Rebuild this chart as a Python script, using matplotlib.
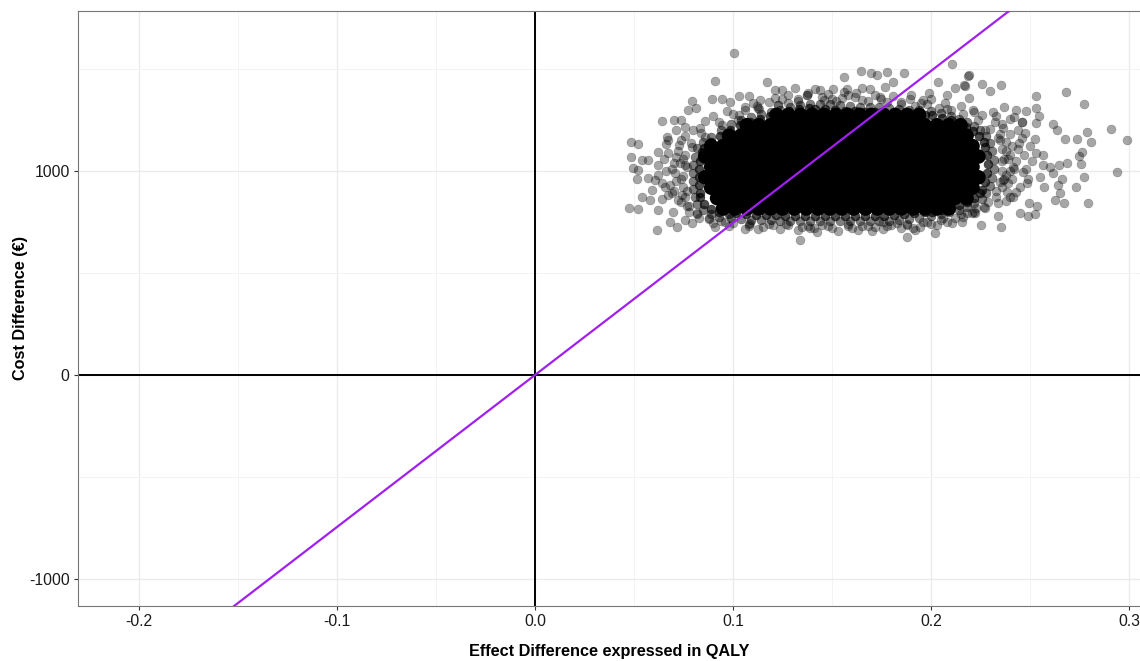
import matplotlib
matplotlib.use("Agg")
import matplotlib.pyplot as plt
from matplotlib.ticker import MultipleLocator

# willingness-to-pay threshold (EUR per QALY)
wtp = 7450

x_ticks = [-0.2, -0.1, 0.0, 0.1, 0.2, 0.3]
y_ticks = [-1000, 0, 1000]

fringe = [
    (0.219, 1471), (0.217, 1418), (0.226, 1426), (0.230, 1394), (0.2355, 1420), (0.253, 1368),
    (0.268, 1386), (0.2774, 1327), (0.219, 1356), (0.2367, 1315), (0.2428, 1299), (0.2478, 1294),
    (0.253, 1307), (0.2547, 1270), (0.2618, 1230), (0.2638, 1201), (0.2678, 1157), (0.2736, 1157),
    (0.279, 1191), (0.2811, 1144), (0.291, 1207), (0.2988, 1150), (0.2764, 1095), (0.2749, 1074),
    (0.2758, 1034), (0.2685, 1038), (0.2646, 1028), (0.2938, 993), (0.2773, 972), (0.2731, 923),
    (0.266, 959), (0.264, 931), (0.2652, 891), (0.2672, 845), (0.2626, 858), (0.2794, 845),
    (0.2572, 923), (0.2534, 830), (0.2525, 788), (0.2488, 779), (0.245, 793), (0.2497, 842),
    (0.2352, 727), (0.2251, 735), (0.2337, 779), (0.218, 793), (0.2567, 1029), (0.2601, 1021),
    (0.2618, 992), (0.255, 972), (0.253, 1087), (0.2567, 1078), (0.2525, 1155), (0.2476, 1188),
    (0.2461, 1242), (0.2421, 1263), (0.2529, 1234), (0.2446, 1136), (0.2399, 1078), (0.2416, 1021),
    (0.2466, 997), (0.2483, 940), (0.2416, 874), (0.2382, 899), (0.234, 842), (0.2273, 817),
    (0.2222, 793), (0.2365, 956), (0.2315, 1291), (0.2273, 1201), (0.2323, 1242), (0.2365, 1209),
    (0.2348, 1152), (0.2214, 1299), (0.2256, 1274),
    (0.1007, 1577), (0.0907, 1440), (0.117, 1436), (0.0795, 1343), (0.0892, 1351), (0.0943, 1351),
    (0.0985, 1340), (0.1032, 1368), (0.1082, 1368), (0.0774, 1299), (0.0813, 1307), (0.064, 1245),
    (0.0702, 1250), (0.0737, 1250), (0.0758, 1217), (0.0712, 1201), (0.0833, 1209), (0.0665, 1168),
    (0.0673, 1152), (0.0736, 1152), (0.0483, 1144), (0.0522, 1132), (0.062, 1095), (0.0673, 1087),
    (0.0483, 1067), (0.0539, 1054), (0.0572, 1054), (0.0623, 1029), (0.0497, 1013), (0.0522, 1005),
    (0.0513, 959), (0.0572, 964), (0.0606, 956), (0.0539, 874), (0.0581, 858), (0.064, 861),
    (0.0476, 817), (0.0522, 812), (0.0623, 809), (0.0699, 800), (0.0682, 751), (0.0716, 727),
    (0.0618, 711), (0.0758, 760), (0.0795, 743), (0.0909, 727), (0.1086, 743), (0.1125, 714),
    (0.1338, 662), (0.0657, 923), (0.069, 891), (0.0741, 882), (0.0589, 907), (0.0732, 1038),
    (0.0766, 1021), (0.0707, 989), (0.0791, 1119), (0.0859, 1168), (0.1027, 1250), (0.0943, 1226),
    (0.1212, 1397), (0.1246, 1397), (0.1313, 1405), (0.1372, 1373), (0.1136, 1348), (0.1061, 1315),
    (0.1128, 1307), (0.1229, 1324), (0.1279, 1332),
    (0.156, 1459), (0.1646, 1492), (0.1697, 1478), (0.1729, 1472), (0.1776, 1484), (0.1862, 1482),
    (0.2108, 1525), (0.2189, 1467), (0.2034, 1435), (0.2168, 1420), (0.2121, 1405), (0.2079, 1373),
    (0.1991, 1381), (0.181, 1438), (0.1768, 1413), (0.1692, 1400), (0.165, 1405), (0.1574, 1402),
    (0.1507, 1402), (0.1439, 1397), (0.1414, 1402), (0.1372, 1373), (0.1498, 1351), (0.1616, 1364),
    (0.1742, 1364), (0.1894, 1351), (0.1961, 1348), (0.1877, 678), (0.1911, 719), (0.202, 695),
    (0.2029, 735), (0.2104, 743), (0.2155, 751), (0.2205, 793), (0.16, 719), (0.1423, 703),
    (0.1389, 719), (0.1759, 751), (0.1827, 746), (0.1944, 727),
    (0.238, 1100), (0.240, 1180), (0.236, 1050), (0.243, 1050), (0.238, 980), (0.245, 920),
    (0.240, 870), (0.236, 1230), (0.244, 1200), (0.250, 1120), (0.248, 1010), (0.239, 940),
    (0.072, 1100), (0.075, 1060), (0.070, 1040), (0.074, 960), (0.068, 930), (0.077, 900),
    (0.072, 860), (0.078, 830), (0.066, 1000), (0.062, 980),
    (0.118, 1340), (0.125, 1355), (0.133, 1345), (0.146, 1350), (0.152, 1345), (0.158, 1370),
    (0.168, 1345), (0.178, 1340), (0.185, 1330), (0.192, 1320), (0.198, 1330), (0.204, 1310),
    (0.210, 1300), (0.112, 1320), (0.106, 1300), (0.100, 1280),
    (0.100, 745), (0.108, 730), (0.120, 735), (0.127, 740), (0.135, 725), (0.145, 735),
    (0.150, 720), (0.158, 740), (0.165, 730), (0.172, 725), (0.180, 735), (0.188, 740),
    (0.196, 750), (0.205, 760), (0.212, 770), (0.094, 755), (0.088, 770), (0.082, 790),
    # just outside the dense edge
    (0.079, 1135), (0.084, 1185), (0.093, 1240), (0.103, 1275), (0.113, 1305), (0.123, 1325),
    (0.133, 1352), (0.145, 1362), (0.155, 1358), (0.165, 1350), (0.175, 1352), (0.185, 1340),
    (0.195, 1335), (0.208, 1305), (0.216, 1280), (0.224, 1250), (0.230, 1205), (0.234, 1160),
    (0.236, 1110), (0.237, 1060), (0.236, 1000), (0.235, 945), (0.233, 900), (0.229, 850),
    (0.223, 820), (0.215, 790), (0.206, 770), (0.198, 750), (0.188, 735), (0.178, 730),
    (0.168, 728), (0.158, 732), (0.148, 728), (0.138, 730), (0.128, 733), (0.118, 738),
    (0.108, 740), (0.096, 748), (0.088, 765), (0.082, 795), (0.077, 830), (0.076, 870),
    (0.075, 920), (0.075, 975), (0.076, 1030), (0.076, 1080),
    (0.235, 1180), (0.238, 1140), (0.241, 1120), (0.239, 1060), (0.242, 1010), (0.240, 1000),
    (0.237, 960), (0.241, 960), (0.236, 920), (0.243, 895), (0.233, 870), (0.238, 855),
    (0.246, 1160), (0.247, 1080), (0.244, 1110), (0.249, 960), (0.251, 1050), (0.246, 1240),
    (0.240, 1255), (0.233, 1270),
    (0.110, 1335), (0.121, 1360), (0.128, 1370), (0.138, 1380), (0.148, 1375), (0.156, 1385),
    (0.162, 1380), (0.172, 1372), (0.181, 1365), (0.190, 1370), (0.200, 1355), (0.207, 1335),
    (0.215, 1320), (0.222, 1290), (0.097, 1295), (0.090, 1270), (0.086, 1245),
    (0.090, 745), (0.098, 730), (0.106, 718), (0.115, 725), (0.124, 718), (0.133, 712),
    (0.141, 722), (0.153, 708), (0.163, 712), (0.170, 705), (0.176, 715), (0.185, 722),
    (0.192, 712), (0.200, 740), (0.208, 752), (0.216, 772), (0.222, 800), (0.227, 825),
    (0.083, 770), (0.078, 800),
    (0.073, 1125), (0.071, 1070), (0.069, 1010), (0.071, 950), (0.070, 900), (0.074, 850),
    (0.076, 1170), (0.080, 1200), (0.066, 1130), (0.065, 1060), (0.064, 940), (0.067, 880),
]

# outer edge of the dense cloud, where replicates pile up 2-3 deep
edge_outer = [
    (0.082, 1113), (0.085, 1142), (0.089, 1167), (0.094, 1201), (0.099, 1230), (0.104, 1250),
    (0.109, 1265), (0.114, 1279), (0.119, 1289), (0.124, 1299), (0.129, 1314), (0.134, 1324),
    (0.139, 1328), (0.144, 1328), (0.149, 1328), (0.154, 1324), (0.159, 1319), (0.164, 1314),
    (0.169, 1314), (0.174, 1314), (0.179, 1309), (0.184, 1304), (0.189, 1299), (0.194, 1299),
    (0.200, 1294), (0.205, 1284), (0.210, 1270), (0.214, 1255), (0.218, 1240), (0.222, 1221),
    (0.225, 1201), (0.228, 1172), (0.230, 1137), (0.231, 1098), (0.232, 1054), (0.232, 1010),
    (0.231, 966), (0.230, 926), (0.228, 892), (0.226, 863), (0.222, 843), (0.218, 824),
    (0.214, 809), (0.209, 799), (0.205, 789), (0.200, 779), (0.194, 770), (0.189, 765),
    (0.184, 760), (0.179, 755), (0.174, 755), (0.169, 755), (0.164, 755), (0.159, 755),
    (0.154, 755), (0.149, 755), (0.144, 755), (0.139, 755), (0.134, 755), (0.129, 755),
    (0.124, 755), (0.119, 760), (0.114, 760), (0.109, 760), (0.104, 765), (0.099, 770),
    (0.093, 774), (0.089, 789), (0.085, 809), (0.082, 838), (0.081, 873), (0.080, 912),
    (0.080, 951), (0.080, 990), (0.080, 1029), (0.081, 1069),
]

# one step further in, piled up 4-5 deep
edge_inner = [
    (0.0855, 1113), (0.089, 1140), (0.0935, 1169), (0.0985, 1200), (0.1035, 1225), (0.1085, 1242),
    (0.1135, 1257), (0.1185, 1269), (0.1235, 1279), (0.1285, 1292), (0.1335, 1304), (0.1385, 1311),
    (0.1415, 1303), (0.1465, 1303), (0.1515, 1301), (0.1565, 1296), (0.1615, 1292), (0.1665, 1289),
    (0.1715, 1289), (0.1765, 1287), (0.1815, 1282), (0.1865, 1277), (0.1915, 1274), (0.197, 1272),
    (0.2005, 1274), (0.2055, 1262), (0.210, 1248), (0.214, 1233), (0.2175, 1216), (0.2215, 1196),
    (0.2245, 1172), (0.227, 1140), (0.2275, 1118), (0.2285, 1076), (0.229, 1032), (0.2285, 988),
    (0.2275, 946), (0.226, 909), (0.225, 892), (0.222, 868), (0.218, 848), (0.214, 831),
    (0.2095, 819), (0.205, 809), (0.2005, 799), (0.197, 800), (0.1915, 793), (0.1865, 788),
    (0.1815, 783), (0.1765, 780), (0.1715, 780), (0.1665, 780), (0.1615, 780), (0.1565, 780),
    (0.1515, 780), (0.1465, 780), (0.1415, 780), (0.1365, 780), (0.1315, 780), (0.1265, 780),
    (0.1215, 783), (0.1165, 785), (0.1115, 785), (0.1065, 788), (0.1015, 793), (0.098, 787),
    (0.093, 797), (0.089, 814), (0.0855, 838), (0.0835, 870), (0.0835, 893), (0.083, 932),
    (0.083, 971), (0.083, 1010), (0.0835, 1049), (0.0845, 1091),
]

# solid centre of the cloud (thousands of overlapping replicates), by cost row
core_y = [1275, 1224, 1173, 1122, 1071, 1020, 969, 918, 867, 816]
core_x = [
    [0.122, 0.128, 0.134, 0.140, 0.146, 0.152, 0.158, 0.164, 0.170, 0.176, 0.182, 0.188, 0.194],
    [0.107, 0.113, 0.119, 0.125, 0.131, 0.137, 0.143, 0.149, 0.155, 0.161, 0.167, 0.173,
     0.179, 0.185, 0.191, 0.197, 0.203, 0.209, 0.215],
    [0.098, 0.104, 0.110, 0.116, 0.122, 0.128, 0.134, 0.140, 0.146, 0.152, 0.158, 0.164,
     0.170, 0.176, 0.182, 0.188, 0.194, 0.200, 0.206, 0.212, 0.218],
    [0.089, 0.095, 0.101, 0.107, 0.113, 0.119, 0.125, 0.131, 0.137, 0.143, 0.149, 0.155,
     0.161, 0.167, 0.173, 0.179, 0.185, 0.191, 0.197, 0.203, 0.209, 0.215, 0.221],
    [0.086, 0.092, 0.098, 0.104, 0.110, 0.116, 0.122, 0.128, 0.134, 0.140, 0.146, 0.152,
     0.158, 0.164, 0.170, 0.176, 0.182, 0.188, 0.194, 0.200, 0.206, 0.212, 0.218, 0.224],
    [0.089, 0.095, 0.101, 0.107, 0.113, 0.119, 0.125, 0.131, 0.137, 0.143, 0.149, 0.155,
     0.161, 0.167, 0.173, 0.179, 0.185, 0.191, 0.197, 0.203, 0.209, 0.215, 0.221],
    [0.086, 0.092, 0.098, 0.104, 0.110, 0.116, 0.122, 0.128, 0.134, 0.140, 0.146, 0.152,
     0.158, 0.164, 0.170, 0.176, 0.182, 0.188, 0.194, 0.200, 0.206, 0.212, 0.218, 0.224],
    [0.089, 0.095, 0.101, 0.107, 0.113, 0.119, 0.125, 0.131, 0.137, 0.143, 0.149, 0.155,
     0.161, 0.167, 0.173, 0.179, 0.185, 0.191, 0.197, 0.203, 0.209, 0.215, 0.221],
    [0.092, 0.098, 0.104, 0.110, 0.116, 0.122, 0.128, 0.134, 0.140, 0.146, 0.152, 0.158,
     0.164, 0.170, 0.176, 0.182, 0.188, 0.194, 0.200, 0.206, 0.212, 0.218],
    [0.095, 0.101, 0.107, 0.113, 0.119, 0.125, 0.131, 0.137, 0.143, 0.149, 0.155, 0.161,
     0.167, 0.173, 0.179, 0.185, 0.191, 0.197, 0.203, 0.209],
]

plt.rcParams["font.family"] = ["Liberation Sans", "DejaVu Sans"]

fig = plt.figure(figsize=(11.4, 6.61), dpi=100)
ax = fig.add_axes([78 / 1140, 55 / 661, 1062 / 1140, 595 / 661])

ax.set_xlim(-0.2308, 0.3056)
ax.set_ylim(-1132, 1784)

# grid like theme_bw
ax.set_xticks(x_ticks)
ax.set_xticklabels([f"{t:.1f}" for t in x_ticks])
ax.set_yticks(y_ticks)
ax.set_yticklabels([str(t) for t in y_ticks])
ax.xaxis.set_minor_locator(MultipleLocator(0.05))
ax.yaxis.set_minor_locator(MultipleLocator(500))
ax.grid(which="major", color="#ebebeb", lw=1.0, zorder=0)
ax.grid(which="minor", color="#f3f3f3", lw=0.7, zorder=0)
ax.set_axisbelow(True)
ax.tick_params(which="major", length=3, width=0.8, color="#333333",
               labelsize=11.3, labelcolor="#1a1a1a", pad=3)
ax.tick_params(which="minor", length=0)

for side in ["left", "bottom", "top"]:
    ax.spines[side].set_color("#777777")
    ax.spines[side].set_linewidth(0.8)
ax.spines["right"].set_visible(False)

ax.axhline(0, color="black", lw=1.4, zorder=2)
ax.axvline(0, color="black", lw=1.4, zorder=2)

cx = [x for row in core_x for x in row]
cy = [y for y, row in zip(core_y, core_x) for _ in row]
ax.scatter(cx, cy, s=110, color="black", edgecolors="none", zorder=3)

ix, iy = zip(*edge_inner)
ax.scatter(ix, iy, s=42, color="black", alpha=0.7, edgecolors="black",
           linewidths=0.3, zorder=3)
ex, ey = zip(*edge_outer)
ax.scatter(ex, ey, s=42, color="black", alpha=0.5, edgecolors="black",
           linewidths=0.3, zorder=3)
fx, fy = zip(*fringe)
ax.scatter(fx, fy, s=42, color="black", alpha=0.35, edgecolors="black",
           linewidths=0.3, zorder=3)

ax.axline((0, 0), slope=wtp, color="#a020f0", lw=1.6, zorder=4)

ax.set_xlabel("Effect Difference expressed in QALY", fontsize=11.7,
              fontweight="bold", va="center")
ax.xaxis.set_label_coords(0.5, -0.0773)
ax.set_ylabel("Cost Difference (€)", fontsize=11.7, fontweight="bold", va="center")
ax.yaxis.set_label_coords(-0.0546, 0.5)

fig.savefig("out.png", dpi=100)
